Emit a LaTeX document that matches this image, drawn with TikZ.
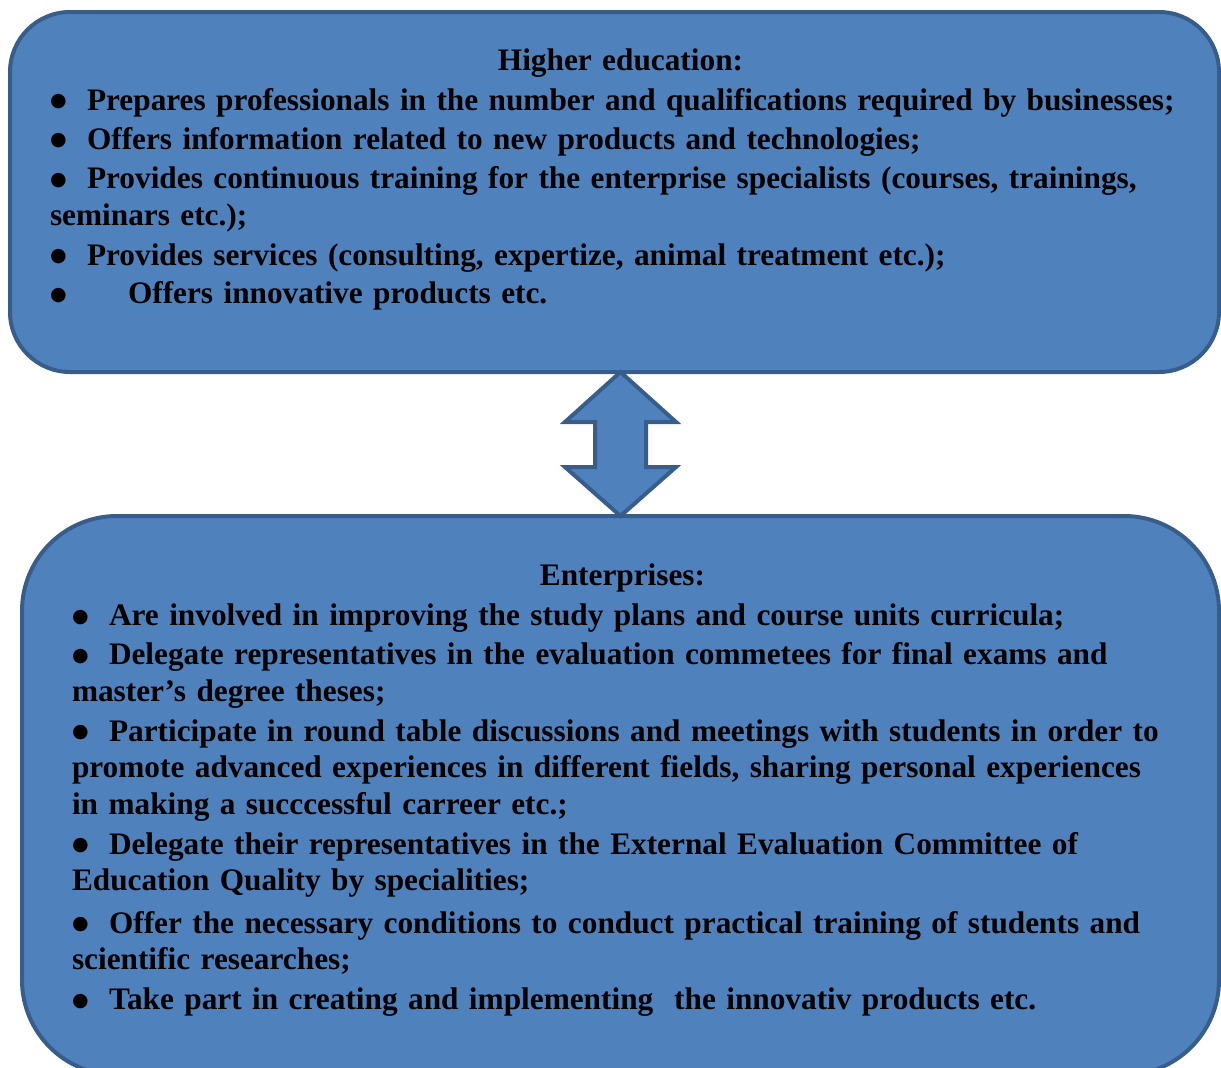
\documentclass[tikz,border=0pt]{standalone}
\usepackage{fontspec}
\setmainfont{Liberation Serif}
\newfontfamily\dotfont{DejaVu Sans}
\usetikzlibrary{positioning, calc}
\definecolor{cFill}{RGB}{79,129,189}
\definecolor{cEdge}{RGB}{56,93,138}
\newcommand{\nohyph}{\hyphenpenalty=10000\relax}
\tikzset{
  roundbox/.style={rectangle, draw=cEdge, fill=cFill, line width=4pt,
                   align=left, inner sep=0pt, outer sep=0pt,
                   font=\fontsize{31.3}{36.8}\selectfont\bfseries\nohyph},
  topbox/.style={roundbox, rounded corners=60pt, minimum width=1209pt,
                 minimum height=360pt, text width=1129pt},
  botbox/.style={roundbox, rounded corners=95pt, minimum width=1197pt,
                 minimum height=559pt, text width=1097pt},
  linkarrow/.style={draw=cEdge, fill=cFill, line width=4pt, line join=miter}
}
\newcommand{\bul}[1][37pt]{\makebox[#1][l]{\raisebox{3.5pt}{\dotfont\fontsize{19}{19}\selectfont ●}}}

\begin{document}
\begin{tikzpicture}[x=1pt, y=-1pt]
  \useasboundingbox (0,0) rectangle (1221,1068);
  \node[topbox] (hi) at (614.5,192)
      {\makebox[\linewidth]{\hspace*{12pt}Higher education:}\\[3pt]
       \bul Prepares professionals in the number and qualifications required by businesses;\\[2.5pt]
       \bul Offers information related to new products and technologies;\\[2.5pt]
       \bul Provides continuous training for the enterprise specialists (courses, trainings,\\
       seminars etc.);\\[3pt]
       \bul Provides services (consulting, expertize, animal treatment etc.);\\[1.5pt]
       \bul[78pt]Offers innovative products etc.\rule[-32pt]{0pt}{32pt}};
  \node[botbox, below=144pt of hi, xshift=6pt] (en)
      {\makebox[\linewidth]{\hspace*{4pt}Enterprises:}\\[3pt]
       \bul Are involved in improving the study plans and course units curricula;\\[2pt]
       \bul Delegate representatives in the evaluation commetees for final exams and\\
       master’s degree theses;\\[3pt]
       \bul Participate in round table discussions and meetings with students in order to\\
       promote advanced experiences in different fields, sharing personal experiences\\
       in making a succcessful carreer etc.;\\[2.5pt]
       \bul Delegate their representatives in the External Evaluation Committee of\\
       Education Quality by specialities;\\[5.5pt]
       \bul Offer the necessary conditions to conduct practical training of students and\\
       scientific researches;\\[3pt]
       \bul Take part in creating and implementing\ \ the innovativ products etc.\rule[-17pt]{0pt}{17pt}};

  % two-headed link between the boxes
  \coordinate (tipA) at (en.north |- hi.south);
  \draw[linkarrow] (tipA) -- ++(55.5,50) -- ++(-30,0) -- ++(0,45) -- ++(30,0)
    -- (en.north) -- ++(-55.5,-49) -- ++(30,0) -- ++(0,-45) -- ++(-30,0) -- cycle;
\end{tikzpicture}
\end{document}
